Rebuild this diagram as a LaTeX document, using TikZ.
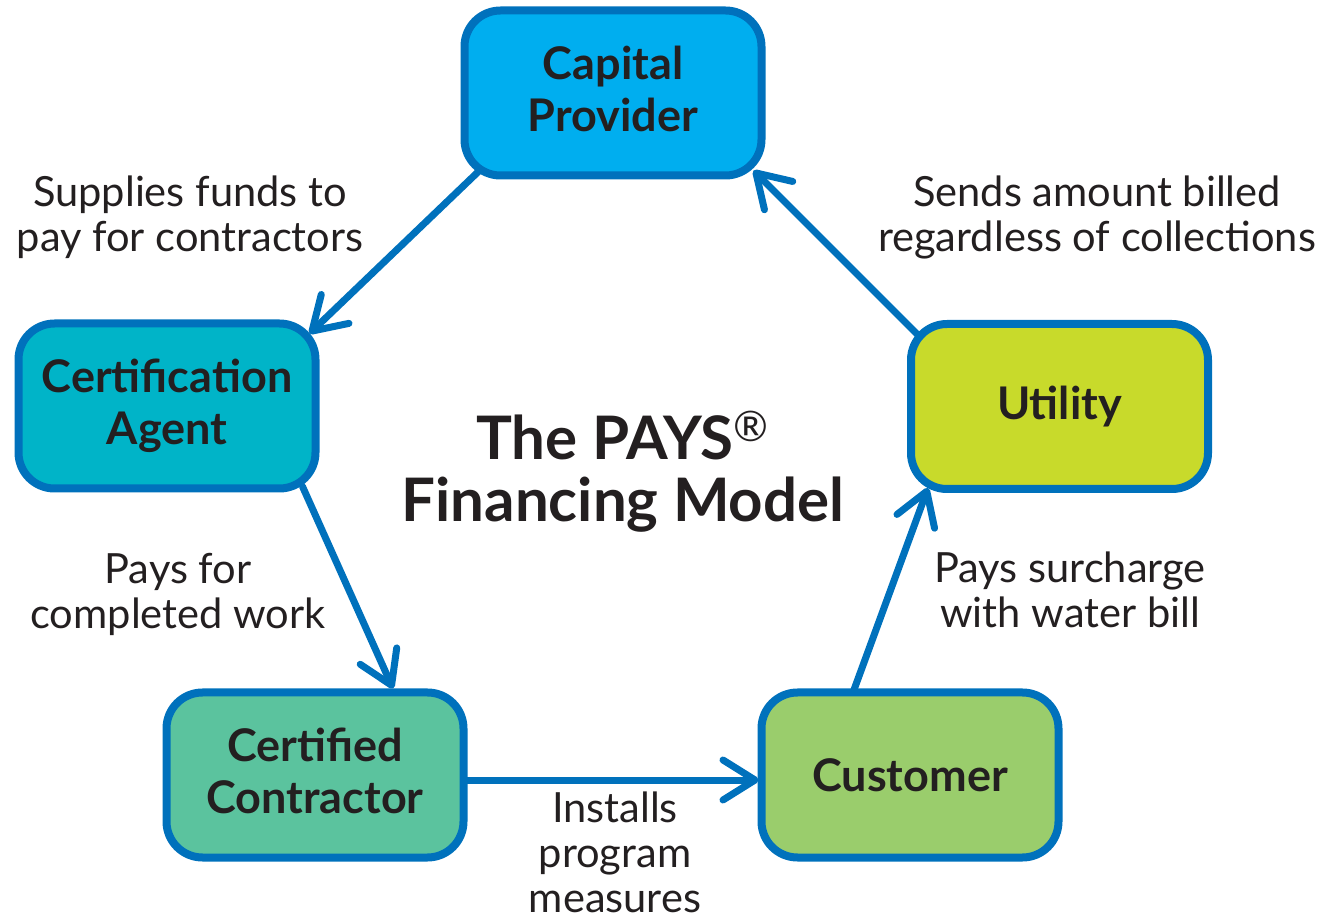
\documentclass[tikz,border=0pt]{standalone}
\usepackage{fontspec}
\setmainfont{Lato}
\usetikzlibrary{arrows.meta,calc}
\definecolor{edge}{HTML}{0071BC}
\definecolor{cpfill}{HTML}{00AEEF}
\definecolor{cafill}{HTML}{00B4C8}
\definecolor{ufill}{HTML}{C8DA2B}
\definecolor{ccfill}{HTML}{5BC39E}
\definecolor{cufill}{HTML}{9ACD6C}
\definecolor{ink}{HTML}{231F20}
\begin{document}
\begin{tikzpicture}[x=0.5pt,y=-0.5pt,
  box/.style={draw=edge, line width=4pt, rounded corners=18pt,
    minimum width=148.5pt, minimum height=82.5pt, outer sep=0pt, inner sep=0pt,
    align=center, text=ink, font=\fontsize{22.5}{26}\selectfont\bfseries},
  arr/.style={draw=edge, line width=3.5pt, line cap=round,
    -{Straight Barb[length=16pt,width=20pt,round]}},
  lbl/.style={text=ink, align=center, inner sep=0pt, font=\fontsize{20.8}{22.5}\selectfont},
  ttl/.style={text=ink, align=center, inner sep=0pt, font=\fontsize{30}{31}\selectfont\bfseries},
]
\useasboundingbox (0,0) rectangle (1324,919);

\node[box, fill=cpfill] (cp) at (613,93) {Capital\\Provider\vphantom{g}};
\node[box, fill=cafill] (ca) at (167,406) {Certification\\Agent};
\node[box, fill=ufill]  (ut) at (1059.5,406.5) {Utility};
\node[box, fill=ccfill] (cc) at (315,775) {Certified\\Contractor\vphantom{g}};
\node[box, fill=cufill] (cu) at (910,775) {Customer};

\node[ttl] (title) at (623,472) {The PAYS\textsuperscript{\normalfont\textregistered}\\Financing Model};

\node[lbl] (l1) at (190,217) {Supplies funds to\\pay for contractors};
\node[lbl] (l2) at (1097,217) {Sends amount billed\\regardless of collections};
\node[lbl] (l3) at (178,594) {Pays for\\completed work};
\node[lbl] (l4) at (1070,590) {Pays surcharge\\with water bill};
\node[lbl] (l5) at (615,852) {Installs\\program\\measures};

\draw[arr] ([shift={(14,-4)}]cp.south west) -- ([shift={(-6,10)}]ca.north east);
\draw[arr] ([shift={(-13,-2)}]ca.south east) -- ([shift={(78,-4)}]cc.north);
\draw[arr] ([shift={(0,5)}]cc.east) -- ([shift={(-3,5)}]cu.west);
\draw[arr] ([shift={(-57,0)}]cu.north) -- ([shift={(17,-1)}]ut.south west);
\draw[arr] ([shift={(9,13)}]ut.north west) -- ([shift={(-8,-5)}]cp.south east);
\end{tikzpicture}
\end{document}
